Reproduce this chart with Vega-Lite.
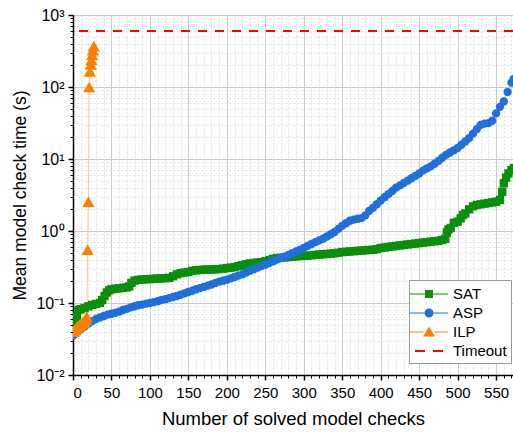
{
  "$schema": "https://vega.github.io/schema/vega-lite/v6.json",
  "width": 440,
  "height": 360,
  "autosize": {"type": "none"},
  "padding": {"left": 73, "top": 15, "right": 0, "bottom": 57},
  "background": "white",
  "config": {
    "font": "Liberation Sans",
    "view": {"stroke": null},
    "axis": {"labelFont": "Liberation Sans", "titleFont": "Liberation Sans", "labelColor": "black", "titleColor": "black", "titleFontWeight": "normal"},
    "legend": {"labelFont": "Liberation Sans", "labelFontSize": 15, "labelColor": "black"}
  },
  "datasets": {
    "pts": [
      {"s":"SAT","x":1,"t":0.045},{"s":"SAT","x":3,"t":0.055},{"s":"SAT","x":5,"t":0.065},{"s":"SAT","x":7,"t":0.08},{"s":"SAT","x":10,"t":0.082},{"s":"SAT","x":15,"t":0.085},{"s":"SAT","x":20,"t":0.09},{"s":"SAT","x":25,"t":0.094},{"s":"SAT","x":30,"t":0.097},{"s":"SAT","x":35,"t":0.1},{"s":"SAT","x":38,"t":0.11},{"s":"SAT","x":41,"t":0.125},{"s":"SAT","x":44,"t":0.14},{"s":"SAT","x":47,"t":0.15},{"s":"SAT","x":50,"t":0.155},{"s":"SAT","x":55,"t":0.158},{"s":"SAT","x":60,"t":0.16},{"s":"SAT","x":65,"t":0.162},{"s":"SAT","x":70,"t":0.165},{"s":"SAT","x":73,"t":0.17},{"s":"SAT","x":76,"t":0.19},{"s":"SAT","x":80,"t":0.205},{"s":"SAT","x":85,"t":0.21},{"s":"SAT","x":90,"t":0.212},{"s":"SAT","x":95,"t":0.214},{"s":"SAT","x":100,"t":0.215},{"s":"SAT","x":105,"t":0.217},{"s":"SAT","x":110,"t":0.218},{"s":"SAT","x":115,"t":0.22},{"s":"SAT","x":120,"t":0.221},{"s":"SAT","x":125,"t":0.223},{"s":"SAT","x":130,"t":0.235},{"s":"SAT","x":135,"t":0.25},{"s":"SAT","x":140,"t":0.26},{"s":"SAT","x":145,"t":0.265},{"s":"SAT","x":150,"t":0.27},{"s":"SAT","x":155,"t":0.28},{"s":"SAT","x":160,"t":0.285},{"s":"SAT","x":165,"t":0.288},{"s":"SAT","x":170,"t":0.29},{"s":"SAT","x":175,"t":0.291},{"s":"SAT","x":180,"t":0.292},{"s":"SAT","x":185,"t":0.294},{"s":"SAT","x":190,"t":0.296},{"s":"SAT","x":195,"t":0.3},{"s":"SAT","x":200,"t":0.305},{"s":"SAT","x":205,"t":0.31},{"s":"SAT","x":210,"t":0.315},{"s":"SAT","x":215,"t":0.325},{"s":"SAT","x":220,"t":0.335},{"s":"SAT","x":225,"t":0.345},{"s":"SAT","x":230,"t":0.355},{"s":"SAT","x":235,"t":0.36},{"s":"SAT","x":240,"t":0.365},{"s":"SAT","x":245,"t":0.37},{"s":"SAT","x":250,"t":0.38},{"s":"SAT","x":255,"t":0.395},{"s":"SAT","x":260,"t":0.41},{"s":"SAT","x":265,"t":0.42},{"s":"SAT","x":270,"t":0.425},{"s":"SAT","x":275,"t":0.43},{"s":"SAT","x":280,"t":0.435},{"s":"SAT","x":285,"t":0.44},{"s":"SAT","x":290,"t":0.445},{"s":"SAT","x":295,"t":0.45},{"s":"SAT","x":300,"t":0.452},{"s":"SAT","x":305,"t":0.455},{"s":"SAT","x":310,"t":0.46},{"s":"SAT","x":315,"t":0.465},{"s":"SAT","x":320,"t":0.47},{"s":"SAT","x":325,"t":0.475},{"s":"SAT","x":330,"t":0.48},{"s":"SAT","x":335,"t":0.485},{"s":"SAT","x":340,"t":0.49},{"s":"SAT","x":345,"t":0.5},{"s":"SAT","x":350,"t":0.51},{"s":"SAT","x":355,"t":0.515},{"s":"SAT","x":360,"t":0.52},{"s":"SAT","x":365,"t":0.525},{"s":"SAT","x":370,"t":0.53},{"s":"SAT","x":375,"t":0.535},{"s":"SAT","x":380,"t":0.54},{"s":"SAT","x":385,"t":0.545},{"s":"SAT","x":390,"t":0.55},{"s":"SAT","x":395,"t":0.56},{"s":"SAT","x":400,"t":0.58},{"s":"SAT","x":405,"t":0.59},{"s":"SAT","x":410,"t":0.6},{"s":"SAT","x":415,"t":0.61},{"s":"SAT","x":420,"t":0.62},{"s":"SAT","x":425,"t":0.63},{"s":"SAT","x":430,"t":0.64},{"s":"SAT","x":435,"t":0.65},{"s":"SAT","x":440,"t":0.66},{"s":"SAT","x":445,"t":0.67},{"s":"SAT","x":450,"t":0.68},{"s":"SAT","x":455,"t":0.69},{"s":"SAT","x":460,"t":0.7},{"s":"SAT","x":465,"t":0.71},{"s":"SAT","x":470,"t":0.72},{"s":"SAT","x":475,"t":0.73},{"s":"SAT","x":480,"t":0.75},{"s":"SAT","x":484,"t":0.78},{"s":"SAT","x":486,"t":0.95},{"s":"SAT","x":488,"t":1.05},{"s":"SAT","x":491,"t":1.1},{"s":"SAT","x":495,"t":1.3},{"s":"SAT","x":500,"t":1.35},{"s":"SAT","x":504,"t":1.5},{"s":"SAT","x":507,"t":1.67},{"s":"SAT","x":510,"t":1.75},{"s":"SAT","x":515,"t":2.0},{"s":"SAT","x":520,"t":2.2},{"s":"SAT","x":525,"t":2.3},{"s":"SAT","x":530,"t":2.35},{"s":"SAT","x":535,"t":2.4},{"s":"SAT","x":540,"t":2.45},{"s":"SAT","x":545,"t":2.5},{"s":"SAT","x":550,"t":2.55},{"s":"SAT","x":555,"t":2.7},{"s":"SAT","x":558,"t":3.5},{"s":"SAT","x":560,"t":4.6},{"s":"SAT","x":563,"t":5.5},{"s":"SAT","x":566,"t":6.3},{"s":"SAT","x":570,"t":7.0},{"s":"SAT","x":573,"t":7.5},
      {"s":"ASP","x":1,"t":0.036},{"s":"ASP","x":5,"t":0.04},{"s":"ASP","x":10,"t":0.043},{"s":"ASP","x":15,"t":0.047},{"s":"ASP","x":20,"t":0.052},{"s":"ASP","x":25,"t":0.056},{"s":"ASP","x":30,"t":0.06},{"s":"ASP","x":35,"t":0.063},{"s":"ASP","x":40,"t":0.066},{"s":"ASP","x":45,"t":0.069},{"s":"ASP","x":50,"t":0.071},{"s":"ASP","x":55,"t":0.073},{"s":"ASP","x":60,"t":0.076},{"s":"ASP","x":65,"t":0.08},{"s":"ASP","x":70,"t":0.083},{"s":"ASP","x":75,"t":0.087},{"s":"ASP","x":80,"t":0.09},{"s":"ASP","x":85,"t":0.093},{"s":"ASP","x":90,"t":0.095},{"s":"ASP","x":95,"t":0.098},{"s":"ASP","x":100,"t":0.1},{"s":"ASP","x":105,"t":0.103},{"s":"ASP","x":110,"t":0.106},{"s":"ASP","x":115,"t":0.11},{"s":"ASP","x":120,"t":0.113},{"s":"ASP","x":125,"t":0.117},{"s":"ASP","x":130,"t":0.121},{"s":"ASP","x":135,"t":0.125},{"s":"ASP","x":140,"t":0.13},{"s":"ASP","x":145,"t":0.136},{"s":"ASP","x":150,"t":0.142},{"s":"ASP","x":155,"t":0.148},{"s":"ASP","x":160,"t":0.155},{"s":"ASP","x":165,"t":0.161},{"s":"ASP","x":170,"t":0.167},{"s":"ASP","x":175,"t":0.174},{"s":"ASP","x":180,"t":0.181},{"s":"ASP","x":185,"t":0.19},{"s":"ASP","x":190,"t":0.198},{"s":"ASP","x":195,"t":0.204},{"s":"ASP","x":200,"t":0.21},{"s":"ASP","x":205,"t":0.22},{"s":"ASP","x":210,"t":0.23},{"s":"ASP","x":215,"t":0.24},{"s":"ASP","x":220,"t":0.25},{"s":"ASP","x":225,"t":0.265},{"s":"ASP","x":230,"t":0.28},{"s":"ASP","x":235,"t":0.295},{"s":"ASP","x":240,"t":0.31},{"s":"ASP","x":245,"t":0.325},{"s":"ASP","x":250,"t":0.34},{"s":"ASP","x":255,"t":0.36},{"s":"ASP","x":260,"t":0.38},{"s":"ASP","x":265,"t":0.4},{"s":"ASP","x":270,"t":0.42},{"s":"ASP","x":275,"t":0.44},{"s":"ASP","x":280,"t":0.465},{"s":"ASP","x":285,"t":0.49},{"s":"ASP","x":290,"t":0.52},{"s":"ASP","x":295,"t":0.55},{"s":"ASP","x":300,"t":0.58},{"s":"ASP","x":305,"t":0.62},{"s":"ASP","x":310,"t":0.66},{"s":"ASP","x":315,"t":0.7},{"s":"ASP","x":320,"t":0.74},{"s":"ASP","x":325,"t":0.78},{"s":"ASP","x":330,"t":0.84},{"s":"ASP","x":335,"t":0.9},{"s":"ASP","x":340,"t":0.97},{"s":"ASP","x":345,"t":1.07},{"s":"ASP","x":350,"t":1.18},{"s":"ASP","x":355,"t":1.28},{"s":"ASP","x":360,"t":1.39},{"s":"ASP","x":365,"t":1.44},{"s":"ASP","x":370,"t":1.48},{"s":"ASP","x":375,"t":1.51},{"s":"ASP","x":380,"t":1.65},{"s":"ASP","x":385,"t":1.9},{"s":"ASP","x":390,"t":2.1},{"s":"ASP","x":395,"t":2.35},{"s":"ASP","x":400,"t":2.65},{"s":"ASP","x":405,"t":2.95},{"s":"ASP","x":410,"t":3.25},{"s":"ASP","x":415,"t":3.6},{"s":"ASP","x":420,"t":4.0},{"s":"ASP","x":425,"t":4.3},{"s":"ASP","x":430,"t":4.65},{"s":"ASP","x":435,"t":5.0},{"s":"ASP","x":440,"t":5.4},{"s":"ASP","x":445,"t":5.8},{"s":"ASP","x":450,"t":6.3},{"s":"ASP","x":455,"t":6.9},{"s":"ASP","x":460,"t":7.4},{"s":"ASP","x":465,"t":7.9},{"s":"ASP","x":470,"t":8.6},{"s":"ASP","x":475,"t":9.4},{"s":"ASP","x":480,"t":10.4},{"s":"ASP","x":485,"t":11.4},{"s":"ASP","x":490,"t":12.3},{"s":"ASP","x":495,"t":13.2},{"s":"ASP","x":500,"t":14.2},{"s":"ASP","x":505,"t":15.8},{"s":"ASP","x":510,"t":17.5},{"s":"ASP","x":515,"t":19.5},{"s":"ASP","x":520,"t":22.5},{"s":"ASP","x":525,"t":26},{"s":"ASP","x":530,"t":29.8},{"s":"ASP","x":535,"t":31},{"s":"ASP","x":540,"t":31.5},{"s":"ASP","x":545,"t":34},{"s":"ASP","x":550,"t":43},{"s":"ASP","x":555,"t":53},{"s":"ASP","x":560,"t":63},{"s":"ASP","x":565,"t":85},{"s":"ASP","x":570,"t":115},{"s":"ASP","x":573,"t":130},
      {"s":"ILP","x":1,"t":0.04},{"s":"ILP","x":2,"t":0.042},{"s":"ILP","x":3,"t":0.043},{"s":"ILP","x":4,"t":0.045},{"s":"ILP","x":5,"t":0.046},{"s":"ILP","x":6,"t":0.047},{"s":"ILP","x":7,"t":0.048},{"s":"ILP","x":8,"t":0.049},{"s":"ILP","x":9,"t":0.05},{"s":"ILP","x":10,"t":0.051},{"s":"ILP","x":11,"t":0.052},{"s":"ILP","x":12,"t":0.053},{"s":"ILP","x":13,"t":0.054},{"s":"ILP","x":14,"t":0.055},{"s":"ILP","x":15,"t":0.057},{"s":"ILP","x":16,"t":0.059},{"s":"ILP","x":17,"t":0.061},{"s":"ILP","x":18,"t":0.065},{"s":"ILP","x":19,"t":0.55},{"s":"ILP","x":20,"t":2.55},{"s":"ILP","x":21,"t":100},{"s":"ILP","x":22,"t":165},{"s":"ILP","x":23,"t":205},{"s":"ILP","x":24,"t":240},{"s":"ILP","x":25,"t":280},{"s":"ILP","x":26,"t":325},{"s":"ILP","x":27,"t":370}
    ]
  },
  "data": {"name": "pts"},
  "layer": [
    {
      "mark": {"type": "line", "strokeWidth": 1, "clip": true},
      "encoding": {
        "x": {"field": "x", "type": "quantitative", "scale": {"domain": [0, 572], "nice": false, "zero": false},
          "axis": {"orient": "bottom", "values": [10,20,30,40,60,70,80,90,110,120,130,140,160,170,180,190,210,220,230,240,260,270,280,290,310,320,330,340,360,370,380,390,410,420,430,440,460,470,480,490,510,520,530,540,560,570],
            "labels": false, "domain": false, "title": null, "tickSize": 3, "tickWidth": 1, "tickColor": "black", "grid": true, "gridColor": "#e2e2e2", "gridDash": [2, 2], "gridWidth": 1}},
        "y": {"field": "t", "type": "quantitative", "scale": {"type": "log", "domain": [0.01, 1000], "nice": false},
          "axis": {"orient": "left", "values": [0.02,0.03,0.04,0.05,0.06,0.07,0.08,0.09,0.2,0.3,0.4,0.5,0.6,0.7,0.8,0.9,2,3,4,5,6,7,8,9,20,30,40,50,60,70,80,90,200,300,400,500,600,700,800,900],
            "labels": false, "domain": false, "title": null, "tickSize": 3, "tickWidth": 1, "tickColor": "black", "grid": true, "gridColor": "#e2e2e2", "gridDash": [2, 2], "gridWidth": 1}},
        "stroke": {"field": "s", "type": "nominal", "scale": {"domain": ["SAT", "ASP", "ILP"], "range": ["#8fd08f", "#9dbff0", "#ffc890"]}, "legend": null}
      }
    },
    {
      "mark": {"type": "point", "filled": true, "opacity": 1, "clip": true},
      "encoding": {
        "x": {"field": "x", "type": "quantitative",
          "axis": {"orient": "bottom", "values": [0,50,100,150,200,250,300,350,400,450,500,550], "title": "Number of solved model checks",
            "labelFontSize": 15, "titleFontSize": 18.5, "titlePadding": 9, "labelPadding": 5, "tickSize": 5, "tickWidth": 1.5, "tickColor": "black", "domainColor": "black", "domainWidth": 1.5,
            "grid": true, "gridColor": "#cccccc", "gridWidth": 1}},
        "y": {"field": "t", "type": "quantitative",
          "axis": {"orient": "left", "values": [0.01, 0.1, 1, 10, 100, 1000], "title": "Mean model check time (s)",
            "labelExpr": "datum.value < 0.05 ? '10⁻²' : datum.value < 0.5 ? '10⁻¹' : datum.value < 5 ? '10⁰' : datum.value < 50 ? '10¹' : datum.value < 500 ? '10²' : '10³'",
            "labelFontSize": 16, "titleFontSize": 17.5, "titlePadding": 6, "labelPadding": 4, "tickSize": 5, "tickWidth": 1.5, "tickColor": "black", "domainColor": "black", "domainWidth": 1.5,
            "grid": true, "gridColor": "#cccccc", "gridWidth": 1}},
        "size": {"condition": {"test": "datum.s === 'ILP'", "value": 150}, "value": 70},
        "color": {"field": "s", "type": "nominal", "scale": {"domain": ["SAT", "ASP", "ILP"], "range": ["#0a8f0a", "#1f6fde", "#ff8000"]}, "legend": null},
        "shape": {"field": "s", "type": "nominal", "scale": {"domain": ["SAT", "ASP", "ILP"], "range": ["square", "circle", "triangle-up"]}, "legend": null}
      }
    },
    {
      "mark": {"type": "point", "filled": true, "opacity": 0, "size": 400},
      "encoding": {
        "x": {"field": "x", "type": "quantitative", "axis": null},
        "y": {"field": "t", "type": "quantitative", "axis": null},
        "color": {"field": "s", "type": "nominal",
          "scale": {"domain": ["SAT", "ASP", "ILP", "Timeout"], "range": ["#0a8f0a", "#1f6fde", "#ff8000", "#ff0000"]},
          "legend": {"title": null, "orient": "none", "legendX": 336, "legendY": 265, "padding": 4, "symbolOffset": 6, "labelOffset": 14,
            "symbolSize": 400, "symbolStrokeWidth": 0, "symbolOpacity": 1, "rowPadding": 1,
            "strokeColor": "#999999", "fillColor": "white", "cornerRadius": 0}},
        "shape": {"field": "s", "type": "nominal",
          "scale": {"domain": ["SAT", "ASP", "ILP", "Timeout"], "range": [
            "M-1.9,-0.05H-0.4V0.05H-1.9Z M0.4,-0.05H1.9V0.05H0.4Z M-0.4,-0.4H0.4V0.4H-0.4Z",
            "M-1.9,-0.05H-0.45V0.05H-1.9Z M0.45,-0.05H1.9V0.05H0.45Z M-0.45,0A0.45,0.45,0,1,0,0.45,0A0.45,0.45,0,1,0,-0.45,0Z",
            "M-1.9,-0.05H-0.55V0.05H-1.9Z M0.55,-0.05H1.9V0.05H0.55Z M0,-0.55L0.6,0.45L-0.6,0.45Z",
            "M-1.4,-0.1H-0.4V0.1H-1.4Z M0.4,-0.1H1.4V0.1H0.4Z"]},
          "legend": {"title": null, "orient": "none", "legendX": 336, "legendY": 265, "padding": 4, "symbolOffset": 6, "labelOffset": 14,
            "symbolSize": 400, "symbolStrokeWidth": 0, "symbolOpacity": 1, "rowPadding": 1,
            "strokeColor": "#999999", "fillColor": "white", "cornerRadius": 0}}
      }
    },
    {
      "mark": {"type": "rule", "color": "#ff0000", "strokeWidth": 2, "strokeDash": [9, 8]},
      "encoding": {
        "y": {"datum": 600, "type": "quantitative", "axis": null}
      }
    }
  ],
  "resolve": {"axis": {"x": "independent", "y": "independent"}, "scale": {"shape": "independent", "color": "independent"}}
}
